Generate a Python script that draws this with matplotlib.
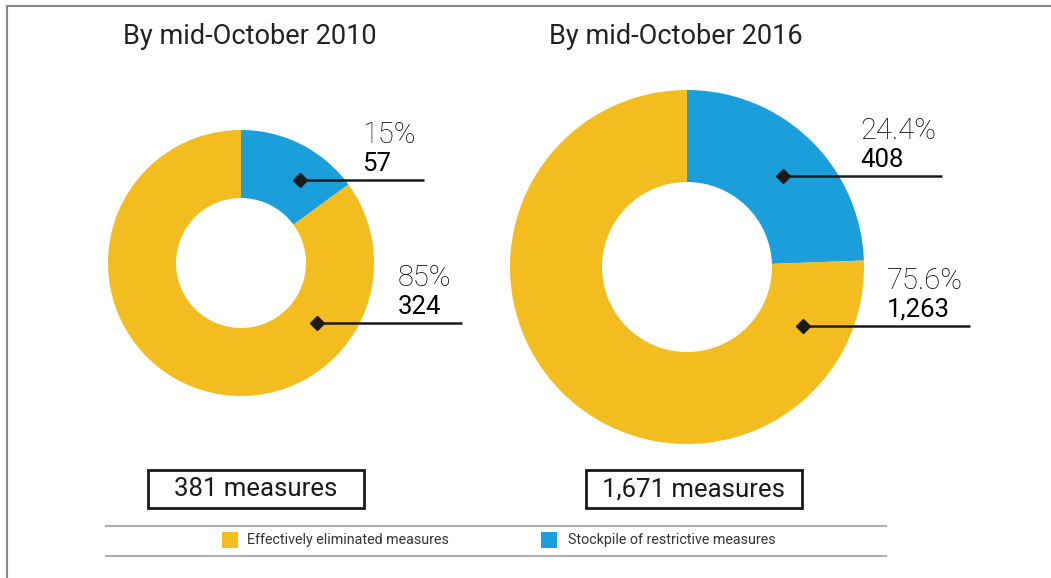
import matplotlib.pyplot as plt
from matplotlib.patches import Rectangle

plt.rcParams['font.family'] = ['Roboto', 'DejaVu Sans']

# data
years = ['2010', '2016']
stockpile = [57, 408]
eliminated = [324, 1263]
pct_stock = ['15%', '24.4%']
pct_elim = ['85%', '75.6%']
lbl_stock = ['57', '408']
lbl_elim = ['324', '1,263']
totals = ['381 measures', '1,671 measures']

orange = '#F3BC1F'
blue = '#1B9FDA'
W, H = 1051, 578

fig = plt.figure(figsize=(W / 100, H / 100), dpi=100)
ax = fig.add_axes([0, 0, 1, 1])
ax.set_xlim(0, W)
ax.set_ylim(0, H)
ax.set_aspect('equal')
ax.axis('off')

def Y(y):
    # picture rows -> axis units
    return H - y

# layout per donut: center, outer r, ring width, title x, box, annotations
layout = [
    dict(c=(241, 263), r=133, w=68, tx=250, box=(148, 470, 216, 38),
         blue_pt=(300, 180), blue_end=424, blue_tx=362,
         or_pt=(317, 323), or_end=462, or_tx=398),
    dict(c=(687, 267), r=177, w=92, tx=676, box=(586, 470, 216, 38),
         blue_pt=(783, 176), blue_end=942, blue_tx=860,
         or_pt=(803, 326), or_end=970, or_tx=887),
]

for i, L in enumerate(layout):
    cx, cy = L['c']
    ax.pie([stockpile[i], eliminated[i]], colors=[blue, orange],
           startangle=90, counterclock=False, center=(cx, Y(cy)),
           radius=L['r'], wedgeprops=dict(width=L['w'], linewidth=0),
           frame=True)
    ax.text(L['tx'], Y(36), f'By mid-October {years[i]}', ha='center',
            va='center', fontsize=19.5, color='#222222')

    # leader lines
    for pt, end, tx, pct, lbl in [
        (L['blue_pt'], L['blue_end'], L['blue_tx'], pct_stock[i], lbl_stock[i]),
        (L['or_pt'], L['or_end'], L['or_tx'], pct_elim[i], lbl_elim[i]),
    ]:
        px, py = pt
        ax.plot([px, end], [Y(py), Y(py)], color='#1a1a1a', lw=1.8,
                solid_capstyle='butt')
        ax.plot(px, Y(py), marker='D', ms=7, color='#1a1a1a')
        ax.text(tx, Y(py - 37), pct, fontsize=21, fontweight='light',
                color='#000000', va='baseline', ha='left')
        ax.text(tx, Y(py - 9), lbl, fontsize=18.5, fontweight='normal',
                color='#000000', va='baseline', ha='left')

    bx, by, bw, bh = L['box']
    ax.add_patch(Rectangle((bx, Y(by + bh)), bw, bh, fill=False,
                           edgecolor='#1a1a1a', lw=2))
    ax.text(bx + bw / 2, Y(by + bh / 2), totals[i], ha='center', va='center',
            fontsize=18.5, color='#1a1a1a')

# legend
ax.plot([106, 886], [Y(526), Y(526)], color='#b0b0b0', lw=1.5)
ax.plot([106, 886], [Y(556), Y(556)], color='#b0b0b0', lw=1.5)
ax.add_patch(Rectangle((222, Y(548)), 16, 16, color=orange, lw=0))
ax.text(247, Y(540), 'Effectively eliminated measures', va='center',
        fontsize=10.3, color='#333333')
ax.add_patch(Rectangle((541, Y(548)), 16, 16, color=blue, lw=0))
ax.text(568, Y(540), 'Stockpile of restrictive measures', va='center',
        fontsize=10.3, color='#333333')

# frame lines at top and left
ax.plot([7, W], [Y(6), Y(6)], color='#8a8a8a', lw=1.5)
ax.plot([7, 7], [Y(6), 0], color='#8a8a8a', lw=1.5)

ax.set_xlim(0, W)
ax.set_ylim(0, H)
ax.axis('off')
fig.savefig('out.png', dpi=100)
